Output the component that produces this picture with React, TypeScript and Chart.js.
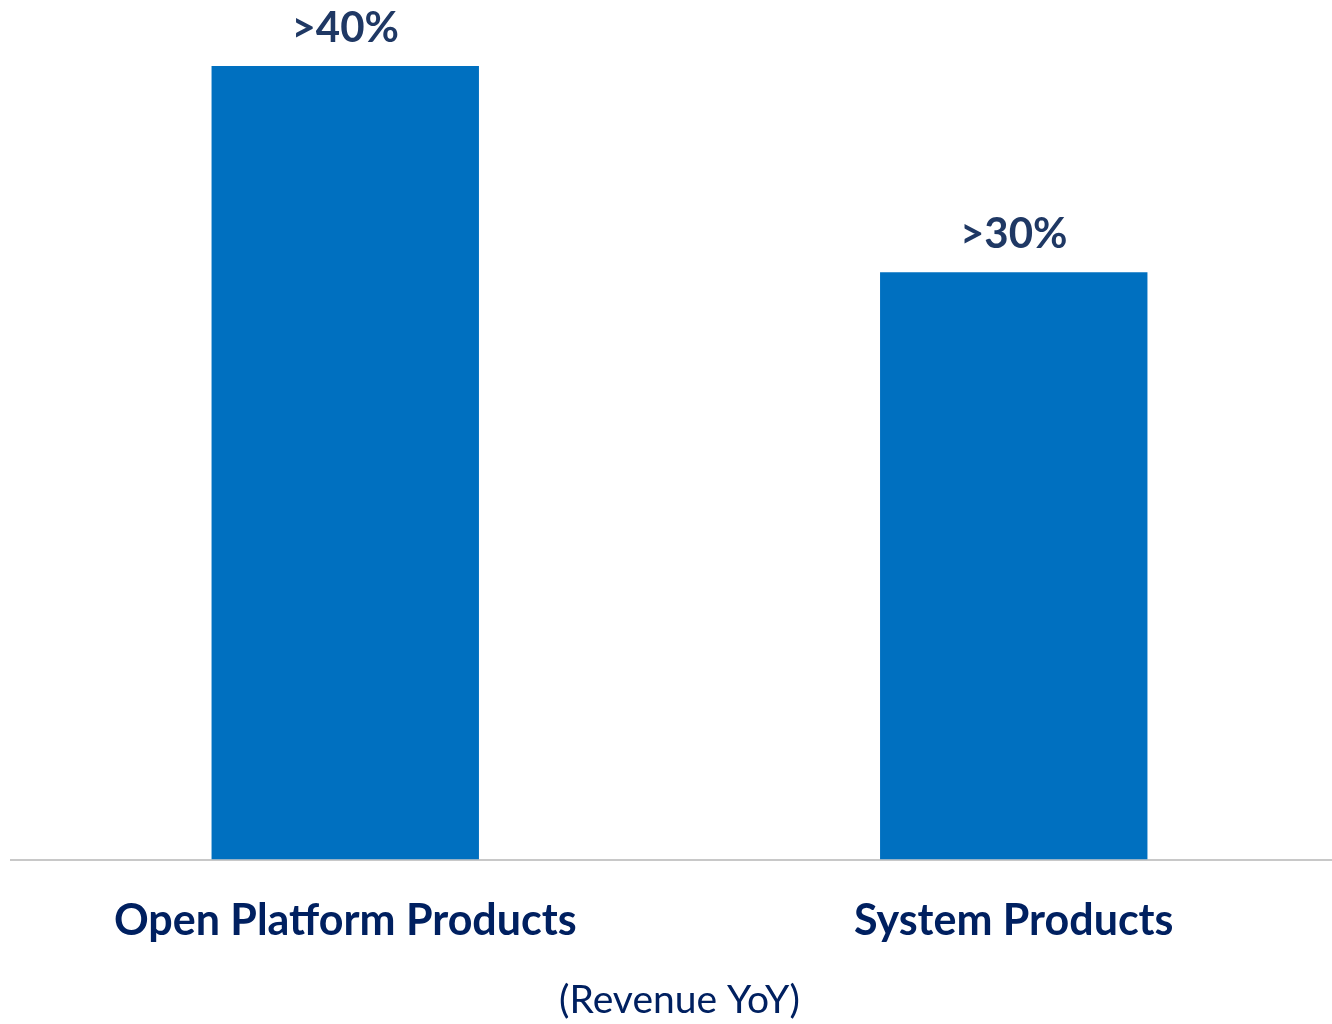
import React, { useEffect, useRef } from "react";
import { Chart, registerables } from "chart.js";

Chart.register(...registerables);

const categories = ["Open Platform Products", "System Products"];
const growthValues = [40, 29.6];
const valueLabels = [">40%", ">30%"];
const axisTitle = "(Revenue YoY)";

const valueLabelPlugin = {
  id: "valueLabels",
  afterDatasetsDraw(chart: any) {
    const ctx = chart.ctx;
    const meta = chart.getDatasetMeta(0);
    ctx.save();
    ctx.font = "bold 42px Lato";
    ctx.fillStyle = "#1F3864";
    ctx.textAlign = "center";
    ctx.textBaseline = "alphabetic";
    meta.data.forEach((bar: any, i: number) => {
      ctx.fillText(valueLabels[i], bar.x, bar.y - 24);
    });
    ctx.restore();
  },
};

export default function App() {
  const canvasRef = useRef<HTMLCanvasElement | null>(null);

  useEffect(() => {
    if (!canvasRef.current) return;
    const chart = new Chart(canvasRef.current, {
      type: "bar",
      data: {
        labels: categories,
        datasets: [
          {
            data: growthValues,
            backgroundColor: "#0070C0",
            borderWidth: 0,
            categoryPercentage: 1,
            barPercentage: 0.4,
          },
        ],
      },
      options: {
        animation: false,
        responsive: true,
        maintainAspectRatio: false,
        layout: { padding: { top: 66, left: 11, right: 0, bottom: 0 } },
        plugins: {
          legend: { display: false },
          tooltip: { enabled: false },
        },
        scales: {
          y: { display: false, min: 0, max: 40 },
          x: {
            grid: { display: false },
            border: { display: true, color: "#C8C8C8", width: 2 },
            ticks: {
              color: "#002060",
              font: { family: "Lato", weight: "bold", size: 43 },
              padding: 28,
              maxRotation: 0,
            },
            title: {
              display: true,
              text: axisTitle,
              color: "#002060",
              font: { family: "Lato", size: 39 },
              padding: { top: 2, bottom: 0 },
            },
          },
        },
      },
      plugins: [valueLabelPlugin],
    });
    return () => chart.destroy();
  }, []);

  return (
    <div
      style={{
        position: "fixed",
        left: 0,
        top: 0,
        width: 1332,
        height: 1024,
        overflow: "hidden",
        background: "#fff",
      }}
    >
      <div style={{ position: "relative", width: 1348, height: 1024 }}>
        <canvas ref={canvasRef} />
      </div>
    </div>
  );
}
